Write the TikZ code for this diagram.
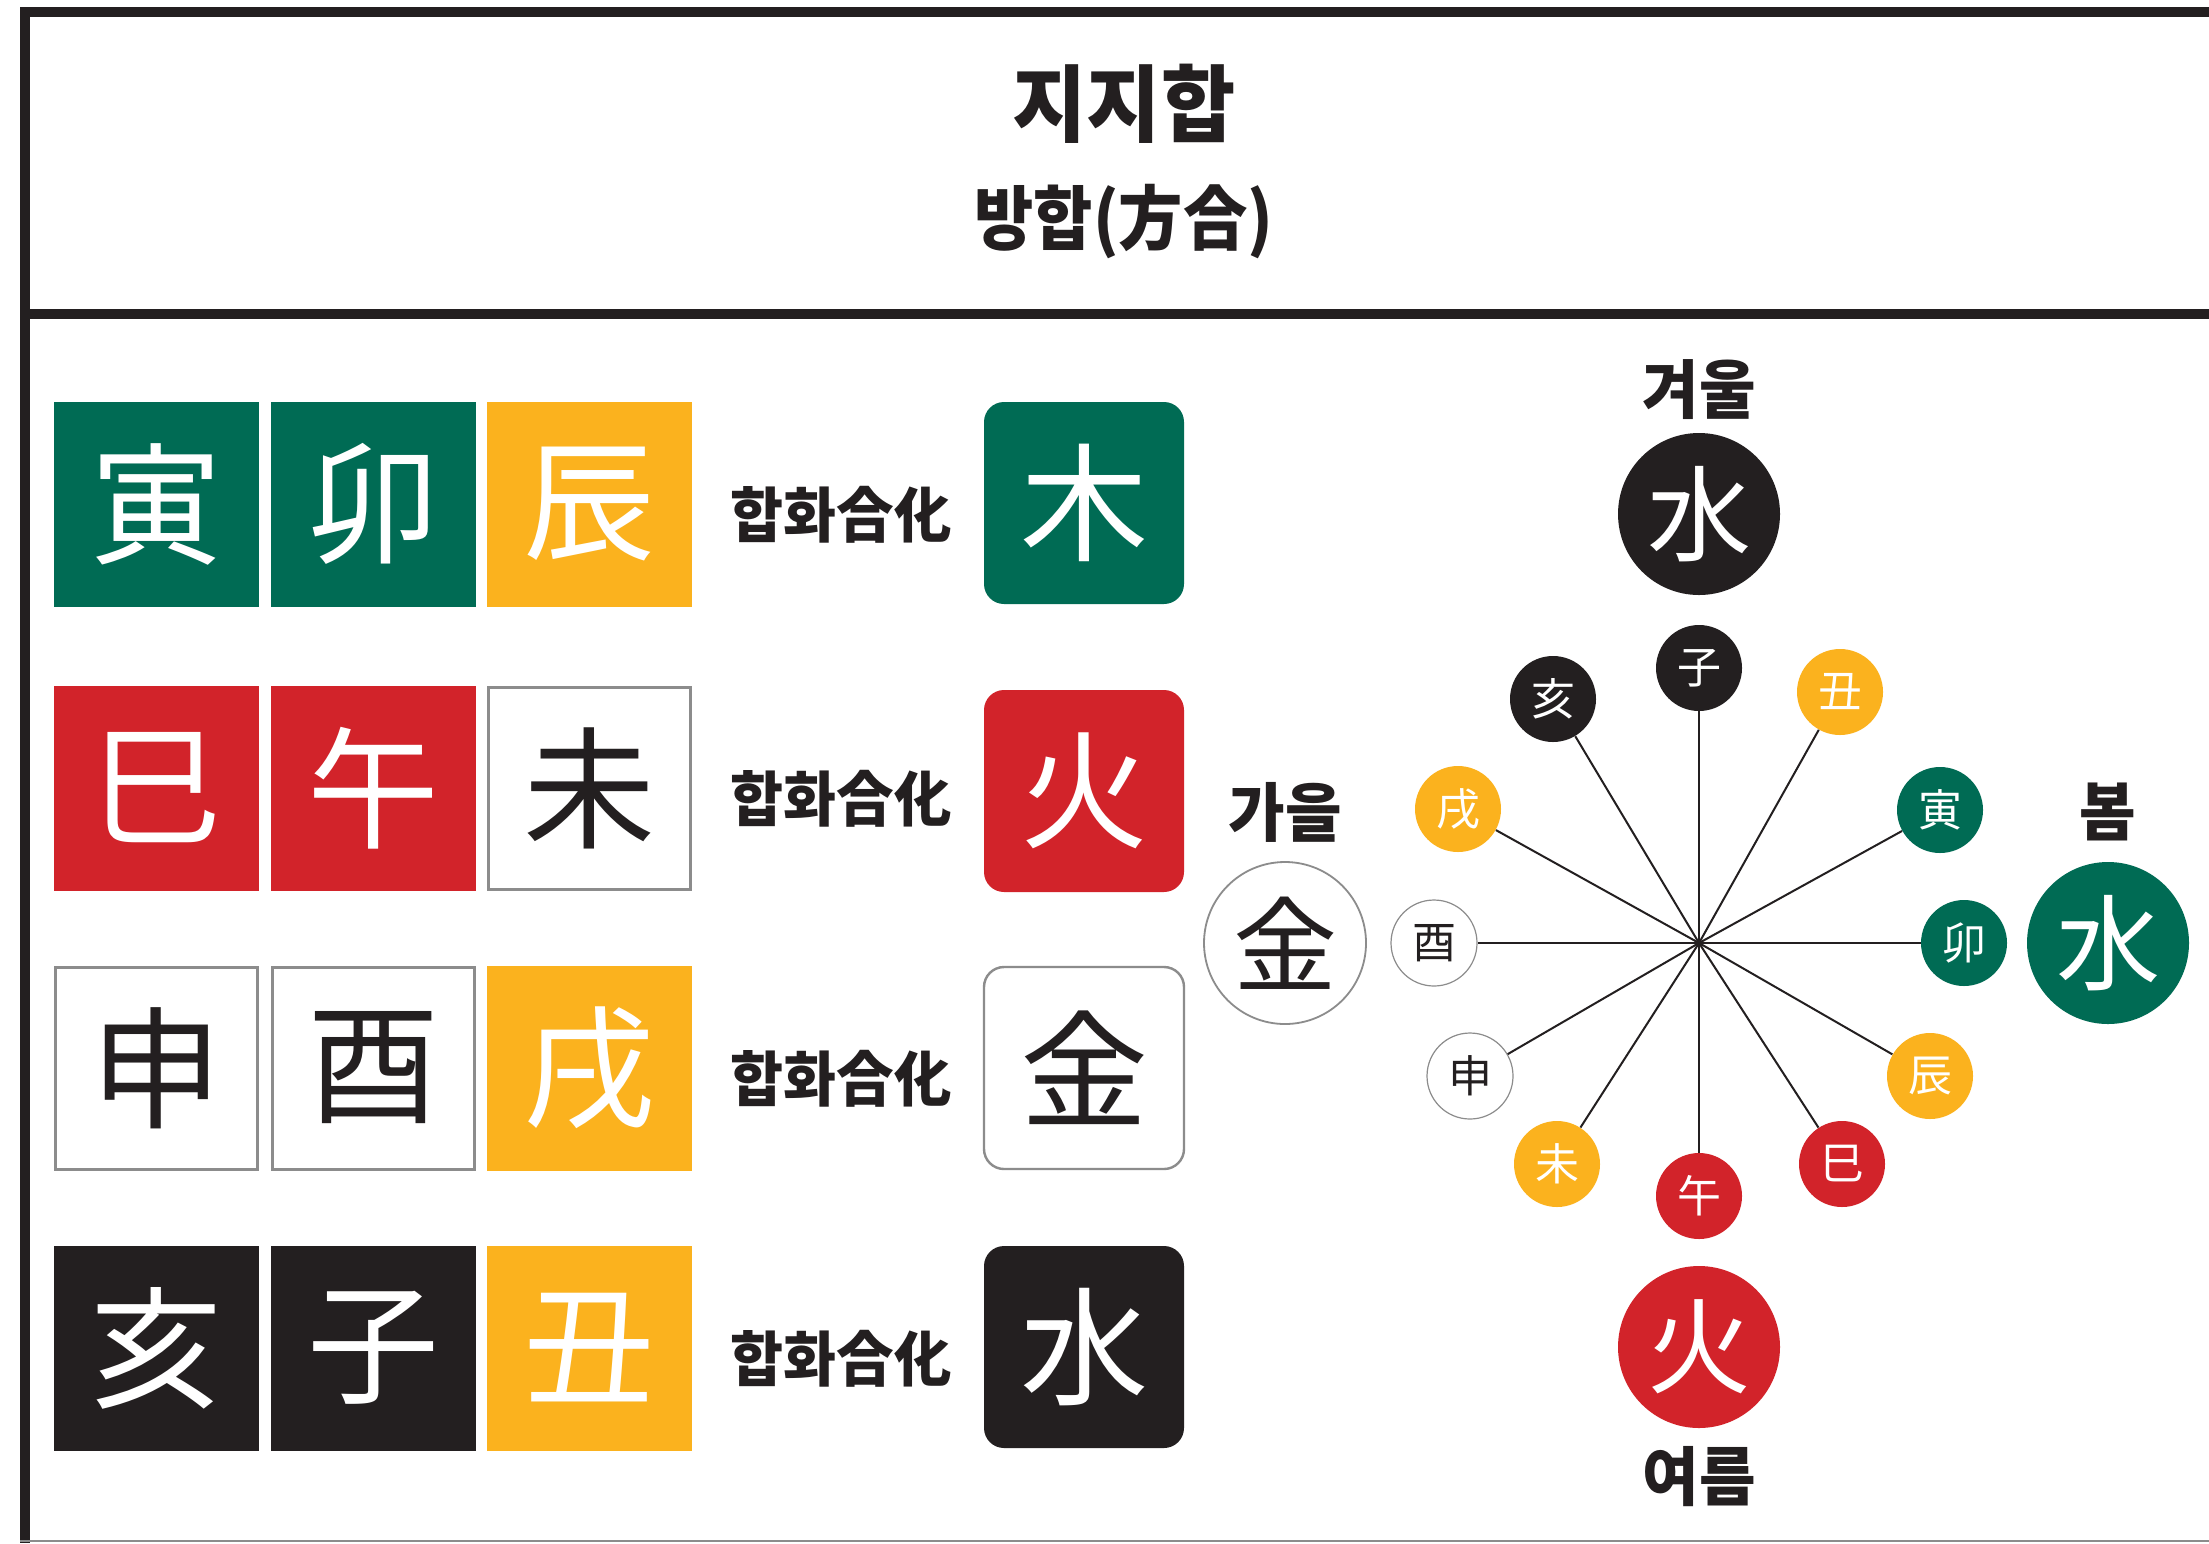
\documentclass[tikz,border=0pt]{standalone}
\usepackage{fontspec}
\newfontfamily\kr{Noto Sans CJK KR}[FakeStretch=0.96]
\newfontfamily\krs{Noto Sans CJK KR}[FakeStretch=0.92]
\newfontfamily\hz{Noto Sans CJK KR}
\definecolor{cgreen}{RGB}{0,107,84}
\definecolor{cyellow}{RGB}{251,178,30}
\definecolor{cred}{RGB}{210,35,42}
\definecolor{cblack}{RGB}{35,31,32}
\definecolor{cgray}{RGB}{140,140,140}
\begin{document}
\begin{tikzpicture}[x=0.5pt,y=-0.5pt,
  tile/.style={minimum width=102.5pt,minimum height=102.5pt,inner sep=0pt,
    font=\hz\fontsize{66}{66}\selectfont},
  gtile/.style={tile,fill=cgreen,text=white},
  ytile/.style={tile,fill=cyellow,text=white},
  rtile/.style={tile,fill=cred,text=white},
  ktile/.style={tile,fill=cblack,text=white},
  wtile/.style={tile,fill=white,draw=cgray,line width=1.5pt,text=cblack,
    minimum width=101pt,minimum height=101pt},
  res/.style={minimum width=100pt,minimum height=101pt,inner sep=0pt,rounded corners=10pt,
    font=\hz\fontsize{64}{64}\selectfont},
  hwa/.style={font=\kr\bfseries\fontsize{30}{30}\selectfont,text=cblack,inner sep=0pt},
  season/.style={font=\kr\bfseries\fontsize{32}{32}\selectfont,text=cblack,inner sep=0pt},
  sc/.style={circle,minimum size=43pt,inner sep=0pt,font=\hz\fontsize{22}{22}\selectfont},
  bc/.style={circle,minimum size=81pt,inner sep=0pt,font=\hz\fontsize{52}{52}\selectfont},
  spoke/.style={draw=cblack,line width=1pt}]
\useasboundingbox (0,0) rectangle (2209,1543);
\fill[white] (0,0) rectangle (2209,1543);
% frame
\fill[cblack] (20,7) rectangle (2209,17);
\fill[cblack] (20,7) rectangle (30,1543);
\fill[cblack] (20,309) rectangle (2209,319);
\draw[cgray,line width=1pt] (20,1541) -- (2209,1541);
% header
\node[font=\kr\bfseries\fontsize{42}{42}\selectfont,text=cblack,inner sep=0pt] (title) at (1124,104) {지지합};
\node[font=\krs\bfseries\fontsize{35}{35}\selectfont,text=cblack,inner sep=0pt] (subtitle) at (1124,222) {방합(方合)};
% row 1
\node[gtile] (t11) at (156,504) {寅};
\node[gtile] (t12) at (373,504) {卯};
\node[ytile] (t13) at (589,504) {辰};
\node[hwa] (h1) at (841,515) {합화合化};
\node[res,fill=cgreen,text=white] (r1) at (1084,503) {木};
% row 2
\node[rtile] (t21) at (156,788) {巳};
\node[rtile] (t22) at (373,788) {午};
\node[wtile] (t23) at (589,788) {未};
\node[hwa] (h2) at (841,799) {합화合化};
\node[res,fill=cred,text=white] (r2) at (1084,791) {火};
% row 3
\node[wtile] (t31) at (156,1068) {申};
\node[wtile] (t32) at (373,1068) {酉};
\node[ytile] (t33) at (589,1068) {戌};
\node[hwa] (h3) at (841,1079) {합화合化};
\node[res,fill=white,draw=cgray,line width=1.2pt,text=cblack] (r3) at (1084,1068) {金};
% row 4
\node[ktile] (t41) at (156,1348) {亥};
\node[ktile] (t42) at (373,1348) {子};
\node[ytile] (t43) at (589,1348) {丑};
\node[hwa] (h4) at (841,1359) {합화合化};
\node[res,fill=cblack,text=white] (r4) at (1084,1347) {水};
% wheel
\coordinate (ctr) at (1699,943);
\node[sc,fill=cblack,text=white] (zi) at (1699,668) {子};
\node[sc,fill=cyellow,text=white] (chou) at (1840,692) {丑};
\node[sc,fill=cgreen,text=white] (yin) at (1940,810) {寅};
\node[sc,fill=cgreen,text=white] (mao) at (1964,943) {卯};
\node[sc,fill=cyellow,text=white] (chen) at (1930,1076) {辰};
\node[sc,fill=cred,text=white] (si) at (1842,1164) {巳};
\node[sc,fill=cred,text=white] (wu) at (1699,1196) {午};
\node[sc,fill=cyellow,text=white] (wei) at (1557,1164) {未};
\node[sc,fill=white,draw=cgray,line width=0.6pt,text=cblack] (shen) at (1470,1076) {申};
\node[sc,fill=white,draw=cgray,line width=0.6pt,text=cblack] (you) at (1434,943) {酉};
\node[sc,fill=cyellow,text=white] (xu) at (1458,809) {戌};
\node[sc,fill=cblack,text=white] (hai) at (1553,699) {亥};
\foreach \n in {zi,chou,yin,mao,chen,si,wu,wei,shen,you,xu,hai}
  \draw[spoke] (ctr) -- (\n);
% seasons
\node[bc,fill=cblack,text=white] (win) at (1699,514) {水};
\node[season] (lwin) at (1699,390) {겨울};
\node[bc,fill=cred,text=white] (sum) at (1699,1347) {火};
\node[season] (lsum) at (1699,1477) {여름};
\node[bc,fill=white,draw=cgray,line width=0.9pt,text=cblack] (aut) at (1285,943) {金};
\node[season] (laut) at (1285,812) {가을};
\node[bc,fill=cgreen,text=white] (spr) at (2108,943) {水};
\node[season] (lspr) at (2108,812) {봄};
\end{tikzpicture}
\end{document}
